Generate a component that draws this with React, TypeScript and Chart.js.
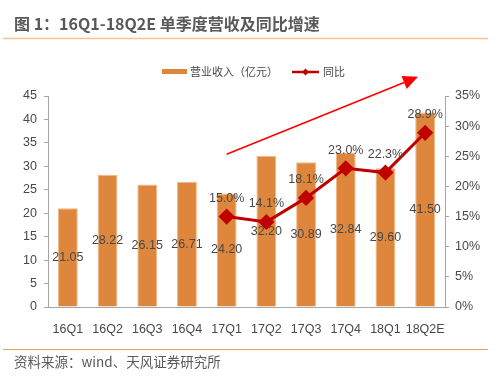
import React, { useEffect, useRef } from "react";
import { Chart, registerables } from "chart.js";

Chart.register(...registerables);

const categories = ["16Q1", "16Q2", "16Q3", "16Q4", "17Q1", "17Q2", "17Q3", "17Q4", "18Q1", "18Q2E"];
const revenue = [21.05, 28.22, 26.15, 26.71, 24.2, 32.2, 30.89, 32.84, 29.6, 41.5];
const yoyGrowth: (number | null)[] = [null, null, null, null, 15.0, 14.1, 18.1, 23.0, 22.3, 28.9];
const titleText = "图 1：16Q1-18Q2E 单季度营收及同比增速";
const sourceText = "资料来源：wind、天风证券研究所";
const barLegend = "营业收入（亿元）";
const lineLegend = "同比";

const BAR_COLOR = "#DE873C";
const BAR_EDGE = "#F2B786";
const LINE_COLOR = "#C00000";
const TEXT_COLOR = "#484848";
const AXIS_COLOR = "#A6A6A6";
const LATIN = '"Liberation Sans", Arial, "Noto Sans CJK SC", sans-serif';
const CJK = '"Noto Sans CJK SC", "Liberation Sans", sans-serif';

const decorPlugin = {
  id: "decor",
  beforeDraw(chart: any) {
    const ctx = chart.ctx;
    ctx.save();
    ctx.fillStyle = "#ffffff";
    ctx.fillRect(0, 0, chart.width, chart.height);
    // title
    ctx.fillStyle = "#595959";
    ctx.font = `bold 16px ${CJK}`;
    ctx.textBaseline = "middle";
    ctx.textAlign = "left";
    ctx.fillText(titleText, 14, 24);
    ctx.strokeStyle = "#F9C28C";
    ctx.lineWidth = 1.5;
    ctx.beginPath();
    ctx.moveTo(3, 38.5);
    ctx.lineTo(488, 38.5);
    ctx.stroke();
    // footer
    ctx.strokeStyle = "#EE9E55";
    ctx.lineWidth = 1.2;
    ctx.beginPath();
    ctx.moveTo(3, 349.5);
    ctx.lineTo(488, 349.5);
    ctx.stroke();
    ctx.fillStyle = "#595959";
    ctx.font = `13.5px ${CJK}`;
    ctx.fillText(sourceText, 14, 362);
    // legend
    ctx.fillStyle = BAR_COLOR;
    ctx.fillRect(162, 69, 25, 5);
    ctx.fillStyle = TEXT_COLOR;
    ctx.font = `11px ${CJK}`;
    ctx.fillText(barLegend, 190, 72);
    ctx.strokeStyle = LINE_COLOR;
    ctx.lineWidth = 2.5;
    ctx.beginPath();
    ctx.moveTo(292, 72);
    ctx.lineTo(319, 72);
    ctx.stroke();
    ctx.fillStyle = LINE_COLOR;
    ctx.beginPath();
    ctx.moveTo(305.5, 68.5);
    ctx.lineTo(309, 72);
    ctx.lineTo(305.5, 75.5);
    ctx.lineTo(302, 72);
    ctx.closePath();
    ctx.fill();
    ctx.fillStyle = TEXT_COLOR;
    ctx.fillText(lineLegend, 323, 72);
    ctx.restore();
  },
  afterDatasetsDraw(chart: any) {
    const ctx = chart.ctx;
    ctx.save();
    ctx.fillStyle = TEXT_COLOR;
    ctx.font = `12.5px ${LATIN}`;
    ctx.textAlign = "center";
    ctx.textBaseline = "middle";
    const barMeta = chart.getDatasetMeta(0);
    barMeta.data.forEach((bar: any, i: number) => {
      ctx.fillText(revenue[i].toFixed(2), bar.x, (bar.y + bar.base) / 2);
    });
    const lineMeta = chart.getDatasetMeta(1);
    lineMeta.data.forEach((pt: any, i: number) => {
      const v = yoyGrowth[i];
      if (v == null) return;
      ctx.fillText(v.toFixed(1) + "%", pt.x, pt.y - 18);
    });
    // trend arrow
    const xs = chart.scales.x;
    const ys = chart.scales.y;
    const x0 = xs.getPixelForValue(4);
    const y0 = ys.getPixelForValue(32.6);
    const x1 = xs.getPixelForValue(8.82);
    const y1 = ys.getPixelForValue(49.1);
    const ang = Math.atan2(y1 - y0, x1 - x0);
    const headLen = 15;
    const headW = 7;
    const bx = x1 - headLen * Math.cos(ang);
    const by = y1 - headLen * Math.sin(ang);
    ctx.strokeStyle = "#FF0000";
    ctx.fillStyle = "#FF0000";
    ctx.lineWidth = 1.6;
    ctx.beginPath();
    ctx.moveTo(x0, y0);
    ctx.lineTo(bx, by);
    ctx.stroke();
    ctx.beginPath();
    ctx.moveTo(x1, y1);
    ctx.lineTo(bx + headW * Math.sin(ang), by - headW * Math.cos(ang));
    ctx.lineTo(bx - headW * Math.sin(ang), by + headW * Math.cos(ang));
    ctx.closePath();
    ctx.fill();
    ctx.restore();
  },
};

export default function App() {
  const ref = useRef<HTMLCanvasElement | null>(null);
  useEffect(() => {
    if (!ref.current) return;
    const chart = new Chart(ref.current, {
      type: "bar",
      data: {
        labels: categories,
        datasets: [
          {
            type: "bar",
            label: barLegend,
            data: revenue,
            backgroundColor: BAR_COLOR,
            borderColor: BAR_EDGE,
            borderWidth: 1,
            barPercentage: 0.5,
            categoryPercentage: 1,
            yAxisID: "y",
            order: 1,
          },
          {
            type: "line",
            label: lineLegend,
            data: yoyGrowth,
            borderColor: LINE_COLOR,
            backgroundColor: LINE_COLOR,
            borderWidth: 3,
            pointStyle: "rectRot",
            pointRadius: 6,
            pointBackgroundColor: LINE_COLOR,
            pointBorderColor: LINE_COLOR,
            yAxisID: "y1",
            order: 0,
            spanGaps: false,
          } as any,
        ],
      },
      options: {
        animation: false,
        responsive: false,
        layout: { padding: { top: 96, left: 0, right: 0, bottom: 0 } },
        plugins: { legend: { display: false }, tooltip: { enabled: false }, title: { display: false } },
        scales: {
          x: {
            grid: { display: false },
            border: { display: true, color: AXIS_COLOR },
            ticks: { color: TEXT_COLOR, font: { family: LATIN, size: 12.5 }, padding: 7, maxRotation: 0, autoSkip: false },
            afterFit: (s: any) => { s.height = 72; },
          },
          y: {
            position: "left",
            min: 0,
            max: 45,
            ticks: { stepSize: 5, color: TEXT_COLOR, font: { family: LATIN, size: 12.5 }, padding: 7 },
            grid: { drawOnChartArea: false, drawTicks: true, tickLength: 4, color: AXIS_COLOR },
            border: { display: true, color: AXIS_COLOR },
            afterFit: (s: any) => { s.width = 48; },
          },
          y1: {
            position: "right",
            min: 0,
            max: 35,
            ticks: { stepSize: 5, color: TEXT_COLOR, font: { family: LATIN, size: 12.5 }, padding: 6, callback: (v: any) => v + "%" },
            grid: { drawOnChartArea: false, drawTicks: true, tickLength: 4, color: AXIS_COLOR },
            border: { display: true, color: AXIS_COLOR },
            afterFit: (s: any) => { s.width = 55; },
          },
        },
      },
      plugins: [decorPlugin],
    });
    return () => chart.destroy();
  }, []);
  return (
    <div style={{ position: "fixed", left: 0, top: 0, width: 500, height: 379, background: "#fff" }}>
      <canvas ref={ref} width={500} height={379} style={{ display: "block", width: 500, height: 379 }} />
    </div>
  );
}
